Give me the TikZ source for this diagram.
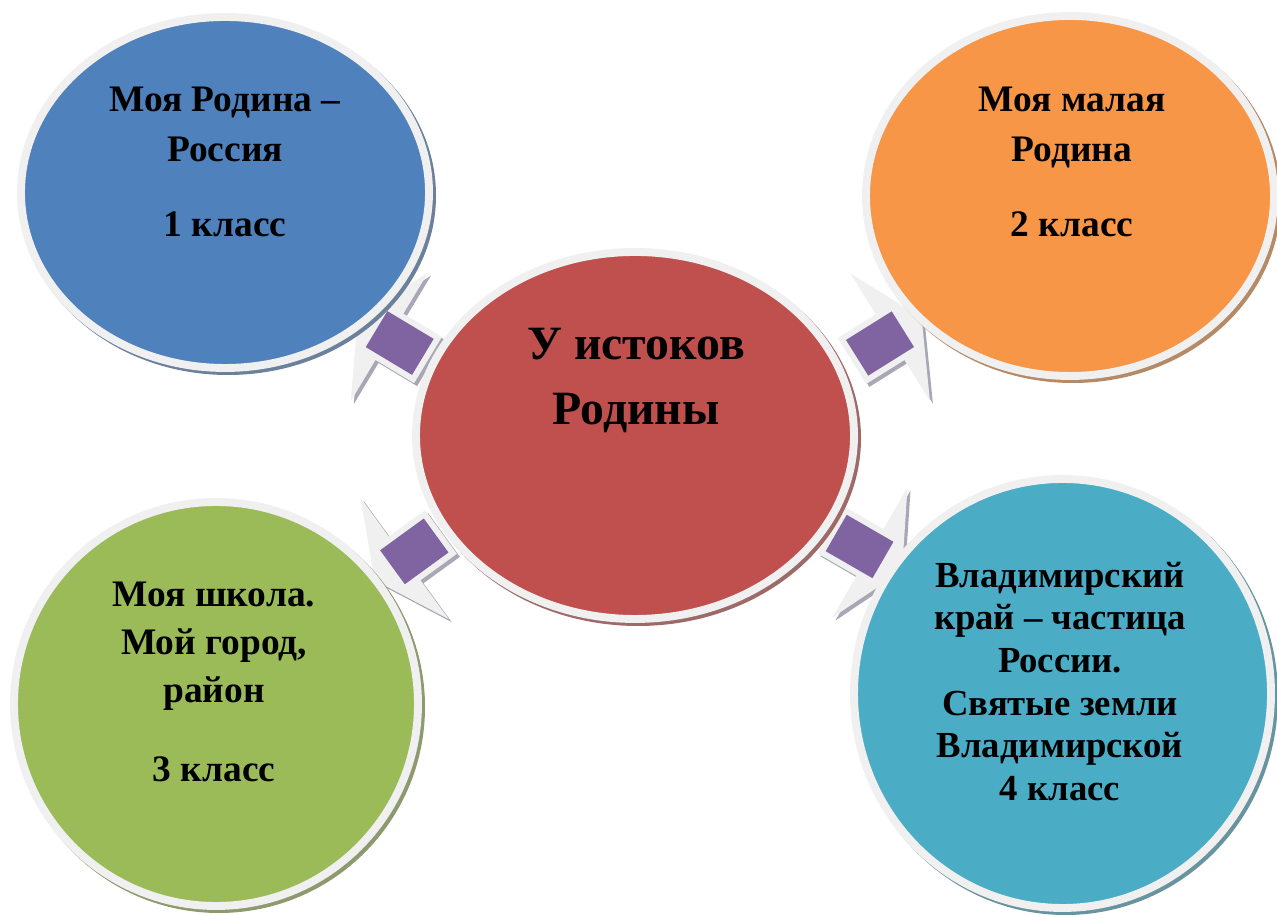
\documentclass[tikz,border=0pt]{standalone}
\usepackage{fontspec}
\setmainfont{Liberation Serif}
\usetikzlibrary{shapes.geometric,calc}
\definecolor{cblue}{HTML}{4F81BD}
\definecolor{corange}{HTML}{F79646}
\definecolor{cred}{HTML}{C0504D}
\definecolor{cgreen}{HTML}{9BBB59}
\definecolor{ccyan}{HTML}{4BACC6}
\definecolor{cpurple}{HTML}{8064A2}
\definecolor{ringgray}{HTML}{F0F0F0}
\definecolor{ashadow}{HTML}{A9A6B5}
\tikzset{
  bub/.style n args={3}{ellipse, draw=ringgray, line width=4.5pt, inner sep=0pt, outer sep=0pt,
     minimum width={#1*0.02cm}, minimum height={#2*0.02cm}, fill=#3},
  shad/.style n args={3}{ellipse, inner sep=0pt, outer sep=0pt,
     minimum width={(#1+8)*0.02cm}, minimum height={(#2+8)*0.02cm}, fill=#3},
  txt/.style={font=\fontsize{21.3}{26}\selectfont\bfseries, anchor=base, inner sep=0pt},
  bigtxt/.style={font=\fontsize{27.2}{32}\selectfont\bfseries, anchor=base, inner sep=0pt},
  smalltxt/.style={font=\fontsize{20.9}{25}\selectfont\bfseries, anchor=base, inner sep=0pt},
  arrowbody/.pic={
    \fill[ringgray] (0,-27) -- (45,-27) -- (45,-75) -- (82,0) -- (45,75) -- (45,27) -- (0,27) -- cycle;
    \fill[cpurple] (6,-21) rectangle (60,21);
  },
  arrowshade/.pic={
    \fill[ashadow] (0,-27) -- (45,-27) -- (45,-75) -- (82,0) -- (45,75) -- (45,27) -- (0,27) -- cycle;
  },
}
\begin{document}
\begin{tikzpicture}[x=0.02cm, y=0.02cm]
\fill[white] (0,0) rectangle (1277,915);
\useasboundingbox (0,0) rectangle (1277,915);

% arrow anchor points (tails at the central circle)
\coordinate (aUL) at (428,555);
\coordinate (aUR) at (852,554);
\coordinate (aLL) at (441,383);
\coordinate (aLR) at (831,385);

% arrow shadows
\pic[rotate=149] at ($(aUL)+(3,-3)$) {arrowshade};
\pic[rotate=32]  at ($(aUR)+(3,-3)$) {arrowshade};
\pic[rotate=216] at ($(aLL)+(3,-3)$) {arrowshade};
\pic[rotate=-30] at ($(aLR)+(3,-3)$) {arrowshade};
% arrows
\pic[rotate=149] at (aUL) {arrowbody};
\pic[rotate=32]  at (aUR) {arrowbody};
\pic[rotate=216] at (aLL) {arrowbody};
\pic[rotate=-30] at (aLR) {arrowbody};

% circle shadows
\node[shad={408}{351}{cblue!45!gray}]   (sB) at (228,719.5) {};
\node[shad={408}{360}{corange!45!gray}] (sO) at (1073,716) {};
\node[shad={438}{367}{cred!45!gray}]    (sC) at (638,476.5) {};
\node[shad={404}{404}{cgreen!45!gray}]  (sG) at (219,208) {};
\node[shad={417}{429}{ccyan!45!gray}]   (sY) at (1065.5,218.5) {};

% circles
\node[bub={408}{351}{cblue}]   (blue)   at (225,722.5) {};
\node[bub={408}{360}{corange}] (orange) at (1070,719) {};
\node[bub={438}{367}{cred}]    (center) at (635,479.5) {};
\node[bub={404}{404}{cgreen}]  (green)  at (216,211) {};
\node[bub={417}{429}{ccyan}]   (cyan)   at (1062.5,221.5) {};

% texts
\node[txt] (b1) at (225,803) {Моя Родина –};
\node[txt] (b2) at (225,753) {Россия};
\node[txt] (b3) at (225,678) {1 класс};

\node[txt] (o1) at (1072,803) {Моя малая};
\node[txt] (o2) at (1072,753) {Родина};
\node[txt] (o3) at (1072,678) {2 класс};

\node[bigtxt] (c1) at (636,555) {У истоков};
\node[bigtxt] (c2) at (636,490) {Родины};

\node[txt] (g1) at (214,308) {Моя школа.};
\node[txt] (g2) at (214,260) {Мой город,};
\node[txt] (g3) at (214,212) {район};
\node[txt] (g4) at (214,133) {3 класс};

\node[smalltxt] (y1) at (1060,327) {Владимирский};
\node[smalltxt] (y2) at (1060,285) {край – частица};
\node[smalltxt] (y3) at (1060,242) {России.};
\node[smalltxt] (y4) at (1060,199) {Святые земли};
\node[smalltxt] (y5) at (1060,157) {Владимирской};
\node[smalltxt] (y6) at (1060,114) {4 класс};
\end{tikzpicture}
\end{document}
